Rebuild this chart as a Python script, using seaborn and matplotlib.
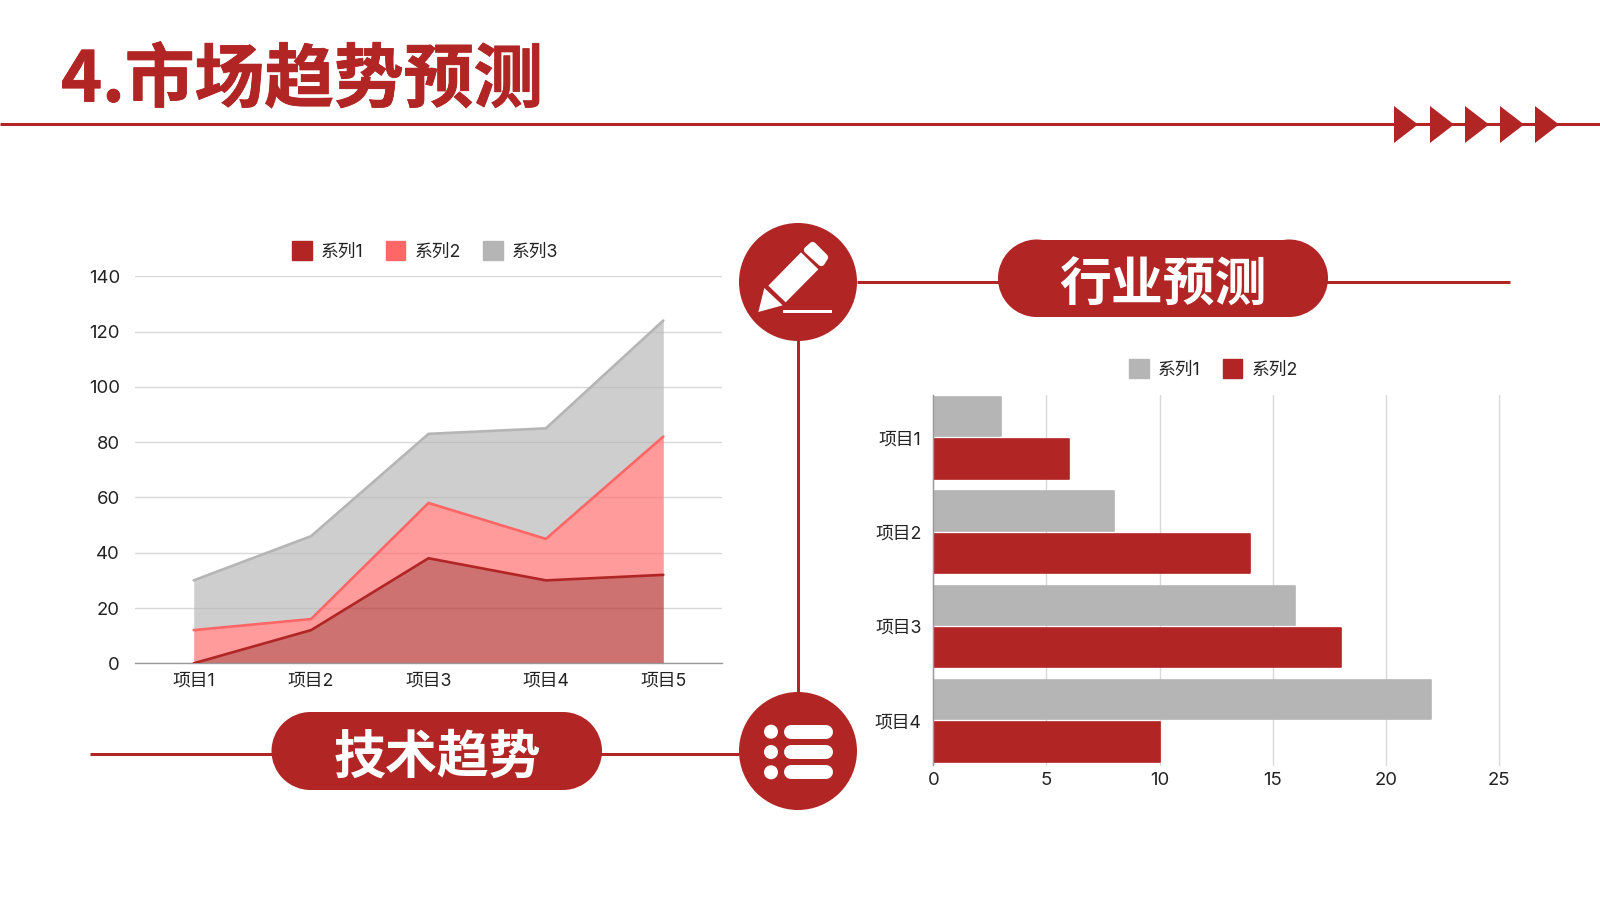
import numpy as np
import pandas as pd
import matplotlib
matplotlib.use("Agg")
import matplotlib.pyplot as plt
import matplotlib.patheffects as pe
from matplotlib.patches import Circle, Polygon, Patch, Rectangle
import seaborn as sns

# ---------- data ----------
area_categories = ["项目1", "项目2", "项目3", "项目4", "项目5"]
area_series1 = [0, 12, 38, 30, 32]
area_series2 = [12, 4, 20, 15, 50]
area_series3 = [18, 30, 25, 40, 42]
area_names = ["系列1", "系列2", "系列3"]

bar_categories = ["项目1", "项目2", "项目3", "项目4"]
bar_series1 = [3, 8, 16, 22]
bar_series2 = [6, 14, 18, 10]
bar_names = ["系列1", "系列2"]

title_text = "4.市场趋势预测"
pill_right_text = "行业预测"
pill_left_text = "技术趋势"

RED = "#B22525"
PINK = "#FF6666"
GREY = "#B5B5B5"
GRID = "#D9D9D9"
AXIS = "#9A9A9A"
INK = "#222222"

sns.set_theme(style="white")
FONT = ["Inter", "Noto Sans CJK SC", "DejaVu Sans"]
plt.rcParams["font.family"] = FONT
W, H = 1600, 900
NUM_SIZE = 13.3
CAT_SIZE = 12.8
fig = plt.figure(figsize=(16, 9), dpi=100, facecolor="white")


def px_axes(x0, y0, x1, y1, **kw):
    return fig.add_axes([x0 / W, 1 - y1 / H, (x1 - x0) / W, (y1 - y0) / H], **kw)


# ---------- decoration layer in pixel units ----------
deco = px_axes(0, 0, W, H)
deco.set_xlim(0, W)
deco.set_ylim(H, 0)
deco.axis("off")
LW = 3 * 0.72
deco.plot([0, W], [124, 124], color=RED, lw=LW, solid_capstyle="butt")
for x in [1394, 1430, 1465, 1500, 1535]:
    deco.add_patch(Polygon([(x, 106), (x + 24, 124.5), (x, 143)], color=RED, lw=0, zorder=3))
deco.text(61, 101.5, title_text, color=RED, fontsize=50.2, fontweight="bold",
          family=["Noto Sans CJK SC"], ha="left", va="baseline",
          path_effects=[pe.withStroke(linewidth=0.6, foreground=RED)])

# connectors
deco.plot([798, 798], [282, 751], color=RED, lw=LW, solid_capstyle="butt", zorder=1)
deco.plot([857, 1510], [281.7, 281.7], color=RED, lw=LW, solid_capstyle="butt", zorder=1)
deco.plot([90, 739], [754, 754], color=RED, lw=LW, solid_capstyle="butt", zorder=1)


def pill(x0, y0, x1, y1, color):
    r = (y1 - y0) / 2
    deco.add_patch(Circle((x0 + r, (y0 + y1) / 2), r, fc=color, lw=0, zorder=3))
    deco.add_patch(Circle((x1 - r, (y0 + y1) / 2), r, fc=color, lw=0, zorder=3))
    deco.add_patch(Rectangle((x0 + r, y0), x1 - x0 - 2 * r, y1 - y0, fc=color, lw=0, zorder=3))


pill(998, 239.5, 1328, 317, RED)
pill(271.5, 712, 602, 790, RED)
for tx, ty, s in [(1163, 285, pill_right_text), (437, 757, pill_left_text)]:
    deco.text(tx, ty, s, color="white", fontsize=37.4, fontweight="bold",
              family=["Noto Sans CJK SC"], ha="center", va="center", zorder=5)

# pencil icon
deco.add_patch(Circle((798, 282), 59, fc=RED, lw=0, zorder=3))


def c1(pts):
    return [(720 + x / 3, 200 + y / 3) for x, y in pts]


deco.add_patch(Polygon(c1([(115, 336), (133, 264), (188, 316)]), fc="white", lw=0, zorder=4))
deco.add_patch(Polygon(c1([(145, 257), (243, 157), (295, 208), (197, 307)]), fc="white", lw=0, zorder=4))
deco.add_patch(Polygon(c1([(262, 150), (278, 136), (314, 172), (304, 188)]),
                       fc="white", ec="white", lw=5, joinstyle="round", zorder=4))
deco.add_patch(Rectangle((720 + 188 / 3, 200 + 330 / 3), 148 / 3, 10 / 3, fc="white", lw=0, zorder=4))

# list icon
deco.add_patch(Circle((798, 751), 59, fc=RED, lw=0, zorder=3))
for y in [731.7, 752, 772.3]:
    deco.add_patch(Circle((771, y), 7, fc="white", lw=0, zorder=4))
    deco.plot([791, 825.5], [y, y], color="white", lw=14 * 0.72, solid_capstyle="round", zorder=4)

# ---------- stacked area chart ----------
ax = px_axes(135, 276.3, 722, 663.3, facecolor="none")
layers = np.cumsum([area_series1, area_series2, area_series3], axis=0)
area_long = pd.DataFrame({
    "项目": area_categories * 3,
    "值": layers.ravel(),
    "系列": np.repeat(area_names, 5),
})
colors3 = [RED, PINK, GREY]
ax.set_axisbelow(True)
ax.yaxis.grid(True, color=GRID, lw=1)
x_idx = np.arange(5)
lower = np.zeros(5)
for top, c in zip(layers, colors3):
    ax.fill_between(x_idx, lower, top, color=c, alpha=0.65, lw=0, zorder=2)
    lower = top
sns.lineplot(data=area_long, x="项目", y="值", hue="系列", palette=colors3,
             hue_order=area_names, sort=False, lw=1.9, ax=ax, legend=False,
             zorder=3, solid_joinstyle="miter")
ax.set_xlim(-0.5, 4.5)
ax.set_ylim(0, 140)
ax.set_yticks(range(0, 141, 20))
ax.set_xlabel("")
ax.set_ylabel("")
sns.despine(ax=ax, left=True, top=True, right=True)
ax.spines["bottom"].set_color(AXIS)
ax.spines["bottom"].set_linewidth(1)
ax.tick_params(axis="y", length=0, pad=10.8, labelsize=NUM_SIZE, labelcolor=INK)
ax.tick_params(axis="x", length=0, pad=6.5, labelsize=CAT_SIZE, labelcolor=INK)
legend_kw = dict(loc="upper left", bbox_transform=fig.transFigure, frameon=False,
                 fontsize=CAT_SIZE, borderpad=0, borderaxespad=0, handlelength=1.117,
                 handleheight=1.34, handletextpad=0.5, columnspacing=1.25, labelcolor=INK)
ax.legend(handles=[Patch(color=c, label=n) for c, n in zip(colors3, area_names)],
          bbox_to_anchor=(292 / W, 1 - 240.5 / H), ncol=3, **legend_kw)

# ---------- horizontal bar chart ----------
bx = px_axes(933.3, 395, 1499, 765, facecolor="none")
bar_long = pd.DataFrame({
    "项目": bar_categories * 2,
    "值": bar_series1 + bar_series2,
    "系列": np.repeat(bar_names, 4),
})
bar_colors = [GREY, RED]
bx.set_axisbelow(True)
sns.barplot(data=bar_long, y="项目", x="值", hue="系列", hue_order=bar_names,
            palette=bar_colors, orient="h", width=0.897, gap=0.07,
            saturation=1, ax=bx, legend=False, zorder=2)
for p in bx.patches:
    p.set_edgecolor(p.get_facecolor())
    p.set_linewidth(1.2)
    p.set_joinstyle("round")
bx.xaxis.grid(True, color=GRID, lw=1, clip_on=False)
bx.yaxis.grid(False)
bx.set_xlim(0, 25)
bx.set_ylim(3.467, -0.452)
bx.set_xticks(range(0, 26, 5))
for g in bx.get_xgridlines():
    g.set_clip_on(False)
bx.set_xlabel("")
bx.set_ylabel("")
sns.despine(ax=bx, left=False, bottom=True, top=True, right=True)
bx.spines["left"].set_color(AXIS)
bx.spines["left"].set_linewidth(1)
bx.tick_params(axis="y", length=0, pad=8.6, labelsize=CAT_SIZE, labelcolor=INK)
bx.tick_params(axis="x", length=0, pad=5, labelsize=NUM_SIZE, labelcolor=INK)
bx.legend(handles=[Patch(color=c, label=n) for c, n in zip(bar_colors, bar_names)],
          bbox_to_anchor=(1129 / W, 1 - 358.5 / H), ncol=2, **legend_kw)

fig.savefig("out.png", dpi=100, facecolor="white")
